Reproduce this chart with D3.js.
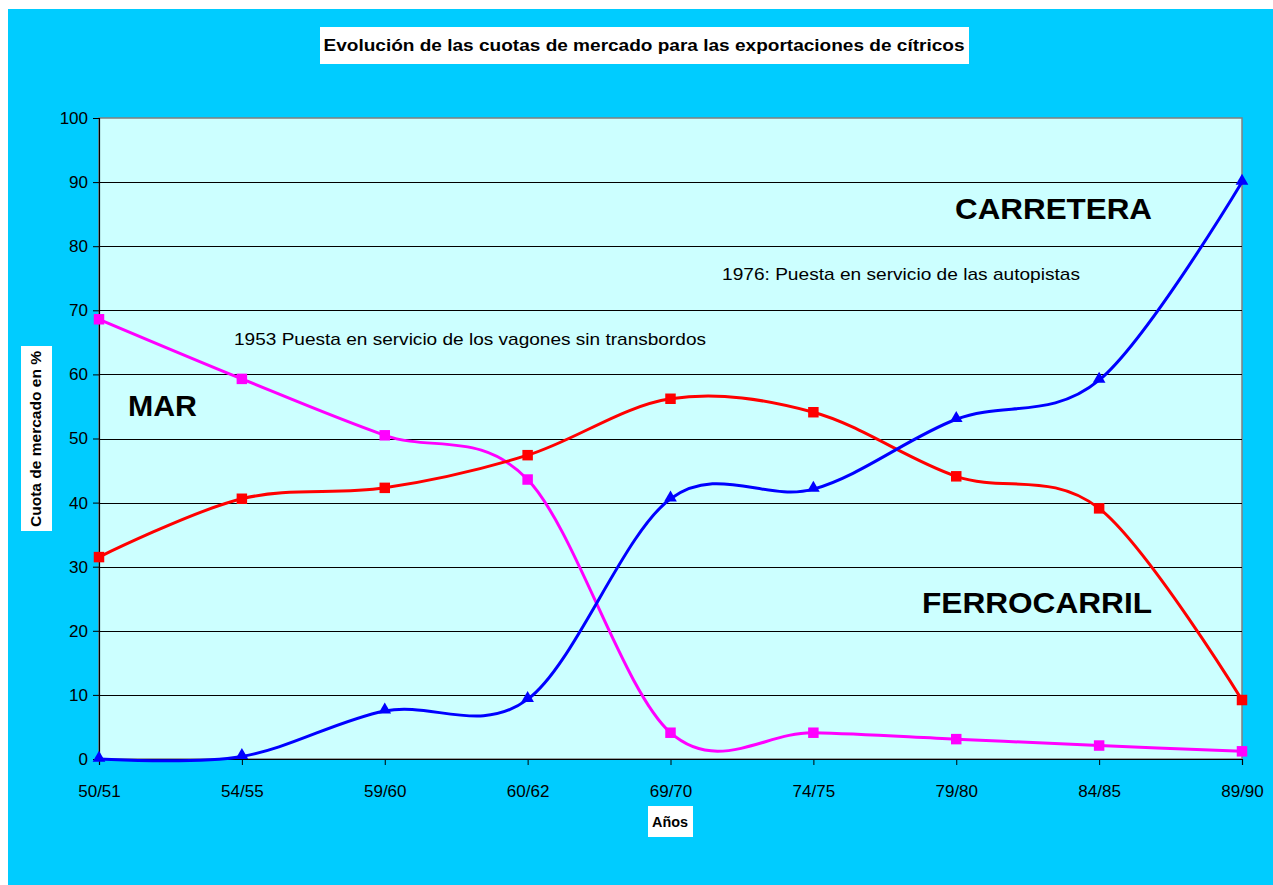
<!DOCTYPE html>
<html>
<head>
<meta charset="utf-8">
<script src="https://cdn.jsdelivr.net/npm/d3@7"></script>
<style>
  body { margin: 0; background: #fff; }
  text { font-family: Arial, "Liberation Sans", sans-serif; }
</style>
</head>
<body>
<div id="Chart"></div>
<script>
var w = 1273;
var h = 885;

// data
var years = ["50/51", "54/55", "59/60", "60/62", "69/70", "74/75", "79/80", "84/85", "89/90"];
var mar = [68.6, 59.3, 50.5, 43.6, 4.1, 4.1, 3.1, 2.1, 1.2];
var ferrocarril = [31.5, 40.6, 42.3, 47.4, 56.2, 54.1, 44.1, 39.1, 9.2];
var carretera = [0, 0.4, 7.5, 9.3, 40.6, 42.1, 53.0, 59.1, 90.0];
var yTicks = [0, 10, 20, 30, 40, 50, 60, 70, 80, 90, 100];

var pLeft = 99, pRight = 1242, pTop = 118, pBottom = 759;

var svg = d3.select("#Chart").append("svg")
    .attr("width", w)
    .attr("height", h);

// outer background
svg.append("rect")
    .attr("x", 8).attr("y", 9)
    .attr("width", w - 8).attr("height", h - 9)
    .attr("fill", "#00CCFF");

var x = d3.scalePoint()
    .domain(years)
    .range([pLeft, pRight])
    .padding(0);

var y = d3.scaleLinear()
    .domain([0, 100])
    .range([pBottom, pTop]);

// plot area
svg.append("rect")
    .attr("x", pLeft).attr("y", pTop)
    .attr("width", pRight - pLeft).attr("height", pBottom - pTop)
    .attr("fill", "#CCFFFF")
    .attr("stroke", "#808080")
    .attr("stroke-width", 1.5);

// gridlines
svg.append("g").selectAll("line")
    .data(yTicks.filter(d => d > 0 && d < 100))
    .enter()
    .append("line")
    .attr("x1", pLeft).attr("x2", pRight)
    .attr("y1", d => Math.round(y(d)) + 0.5)
    .attr("y2", d => Math.round(y(d)) + 0.5)
    .attr("stroke", "#000")
    .attr("stroke-width", 1);

// axes
var yAxis = svg.append("g")
    .attr("transform", "translate(" + pLeft + ",0)")
    .call(d3.axisLeft(y).tickValues(yTicks).tickSize(6).tickPadding(5));
var xAxis = svg.append("g")
    .attr("transform", "translate(0," + pBottom + ")")
    .call(d3.axisBottom(x).tickSize(6).tickPadding(20));

[yAxis, xAxis].forEach(g => {
    g.select(".domain").attr("stroke", "#000").attr("stroke-width", 1.2);
    g.selectAll(".tick line").attr("stroke", "#000");
    g.selectAll(".tick text")
        .attr("fill", "#000")
        .style("font-size", "17px")
        .style("font-family", "Arial, 'Liberation Sans', sans-serif");
});

// series
var series = [
    { name: "mar", values: mar, color: "#FF00FF", marker: "square" },
    { name: "ferrocarril", values: ferrocarril, color: "#FF0000", marker: "square" },
    { name: "carretera", values: carretera, color: "#0000FF", marker: "triangle" }
];

var line = d3.line()
    .x((d, i) => x(years[i]))
    .y(d => y(d))
    .curve(d3.curveCatmullRom.alpha(0));

series.forEach(s => {
    var g = svg.append("g").attr("class", s.name);
    g.append("path")
        .datum(s.values)
        .attr("d", line)
        .attr("fill", "none")
        .attr("stroke", s.color)
        .attr("stroke-width", 3);
    var sym = s.marker == "square" ? d3.symbolSquare : d3.symbolTriangle;
    var size = s.marker == "square" ? 110 : 70;
    g.selectAll("path.pt")
        .data(s.values)
        .enter()
        .append("path")
        .attr("class", "pt")
        .attr("d", d3.symbol().type(sym).size(size))
        .attr("transform", (d, i) => "translate(" + x(years[i]) + "," + (y(d) - (s.marker == "triangle" ? 1 : 0)) + ")")
        .attr("fill", s.color);
});

// boxed labels
function boxText(txt, cx, cy, size, len, rotate) {
    var g = svg.append("g")
        .attr("transform", "translate(" + cx + "," + cy + ")" + (rotate ? " rotate(-90)" : ""));
    var r = g.append("rect").attr("fill", "#fff");
    var t = g.append("text")
        .text(txt)
        .attr("text-anchor", "middle")
        .attr("dy", "0.35em")
        .style("font-size", size + "px")
        .style("font-weight", "bold");
    if (len) t.attr("textLength", len).attr("lengthAdjust", "spacingAndGlyphs");
    return { g: g, r: r, t: t };
}

var title = boxText("Evolución de las cuotas de mercado para las exportaciones de cítricos", 644, 45, 17, 641);
title.r.attr("x", -324).attr("y", -18).attr("width", 649).attr("height", 37);

var ylab = boxText("Cuota de mercado en %", 36, 439, 14, 176, true);
ylab.r.attr("x", -92).attr("y", -15).attr("width", 185).attr("height", 31);

var xlab = boxText("Años", 670, 822, 15, 36);
xlab.r.attr("x", -22).attr("y", -16).attr("width", 45).attr("height", 31);

// annotations
var notes = svg.append("g");
function note(txt, nx, ny, size, len, bold) {
    notes.append("text").text(txt)
        .attr("x", nx).attr("y", ny)
        .attr("textLength", len).attr("lengthAdjust", "spacingAndGlyphs")
        .style("font-size", size + "px")
        .style("font-weight", bold ? "bold" : "normal");
}
note("1953 Puesta en servicio de los vagones sin transbordos", 234, 345, 17, 472, false);
note("1976: Puesta en servicio de las autopistas", 722, 280, 17, 358, false);
note("MAR", 128, 416, 30, 69, true);
note("CARRETERA", 955, 219, 30, 197, true);
note("FERROCARRIL", 922, 613, 30, 230, true);
</script>
</body>
</html>
